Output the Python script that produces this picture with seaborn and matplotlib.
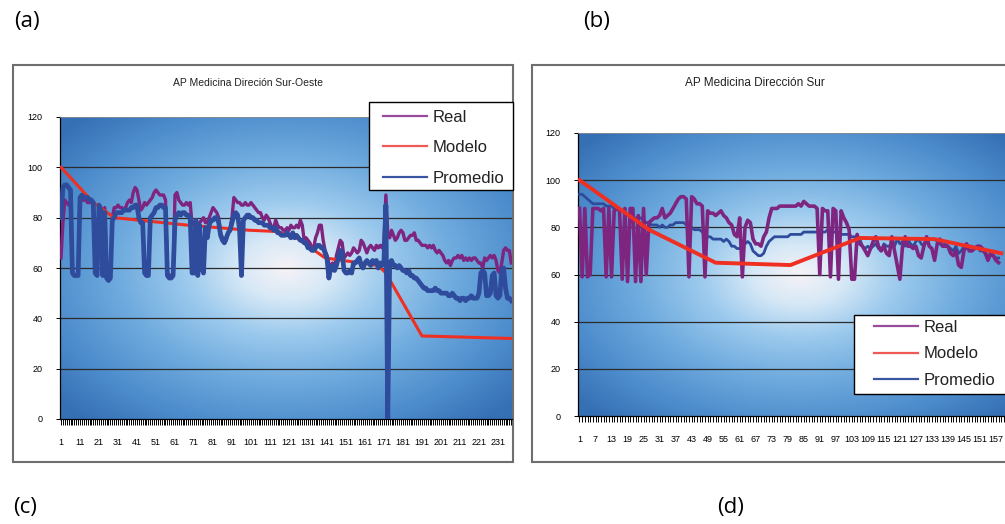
import numpy as np
import matplotlib
matplotlib.use('Agg')
import matplotlib.pyplot as plt
import seaborn as sns
from matplotlib.colors import LinearSegmentedColormap
from matplotlib.lines import Line2D
from matplotlib.patches import Rectangle

nan = np.nan

# ---- (a) AP Medicina Direción Sur-Oeste ----
left_real = [
    64, 78, 87, 86, 85, 86, 58, 57, 57, 58,
    86, 87, 87, 87, 86, 86, 86, 86, 60, 58,
    85, 84, 60, 84, 58, 57, 58, 80, 84, 84,
    85, 84, 84, 83, 84, 86, 87, 86, 90, 92,
    91, 87, 83, 84, 86, 85, 86, 87, 88, 90,
    91, 90, 89, 89, 89, 87, 58, 57, 57, 58,
    89, 90, 87, 86, 85, 85, 86, 85, 86, 77,
    77, 78, 77, 78, 79, 80, 78, 78, 80, 82,
    84, 83, 82, 80, 74, 72, 70, 71, 74, 76,
    80, 88, 87, 86, 86, 85, 85, 86, 85, 85,
    86, 85, 84, 83, 82, 82, 80, 79, 81, 80,
    78, 76, 76, 79, 77, 76, 76, 75, 75, 76,
    75, 77, 76, 76, 77, 76, 79, 77, 71, 72,
    71, 70, 68, 68, 72, 74, 77, 77, 71, 67,
    65, 62, 60, 62, 59, 65, 68, 71, 70, 64,
    65, 66, 65, 66, 68, 67, 66, 67, 71, 70,
    68, 66, 68, 69, 68, 67, 69, 68, 69, 68,
    70, 89, 74, 72, 75, 73, 71, 72, 74, 75,
    74, 71, 71, 72, 73, 73, 74, 71, 71, 70,
    69, 69, 69, 68, 69, 68, 69, 67, 66, 67,
    66, 65, 63, 62, 63, 61, 63, 64, 64, 65,
    64, 65, 63, 64, 63, 64, 63, 64, 64, 63,
    62, 62, 60, 64, 63, 64, 65, 64, 65, 63,
    59, 58, 62, 67, 68, 67, 67, 62]
left_prom = [
    80, 92, 93, 93, 92, 91, 58, 57, 57, 57,
    88, 89, 88, 88, 88, 87, 87, 86, 58, 57,
    85, 83, 57, 82, 56, 55, 56, 79, 80, 82,
    82, 82, 82, 83, 83, 83, 83, 84, 84, 85,
    85, 80, 78, 78, 58, 57, 57, 80, 81, 82,
    84, 84, 85, 85, 84, 84, 57, 56, 56, 57,
    79, 81, 82, 81, 82, 82, 81, 81, 80, 58,
    58, 79, 57, 77, 60, 58, 76, 72, 77, 79,
    79, 80, 80, 78, 73, 71, 70, 72, 74, 75,
    78, 81, 82, 81, 75, 57, 79, 80, 81, 81,
    80, 80, 79, 79, 78, 78, 78, 77, 77, 77,
    76, 76, 75, 76, 74, 74, 73, 73, 73, 74,
    73, 72, 74, 72, 73, 72, 71, 71, 70, 70,
    68, 68, 67, 67, 68, 69, 69, 68, 68, 66,
    64, 56, 60, 61, 59, 61, 64, 67, 66, 59,
    58, 58, 59, 58, 62, 62, 63, 64, 61, 60,
    62, 63, 62, 61, 63, 62, 63, 60, 62, 61,
    63, 85, 0, 62, 63, 61, 61, 60, 61, 60,
    59, 59, 58, 59, 57, 57, 56, 56, 55, 54,
    53, 52, 52, 51, 51, 51, 51, 52, 51, 51,
    50, 50, 50, 50, 49, 49, 50, 49, 48, 48,
    47, 48, 48, 47, 48, 48, 49, 48, 48, 48,
    50, 58, 59, 58, 49, 49, 50, 57, 58, 49,
    48, 49, 59, 60, 52, 48, 48, 47]
left_model_x = [1, 18, 29, 68, 100, 115, 125, 140, 168, 172, 191, 238]
left_model_y = [100, 86, 80, 77, 75, 74.5, 72, 64, 61, 58, 33, 32]

# ---- (b) AP Medicina Dirección Sur ----
right_real = [
    88, 59, 88, 59, 60, 88, 88, 88, 87, 88,
    59, 88, 59, 87, 88, 87, 58, 88, 57, 88,
    88, 57, 85, 57, 88, 60, 82, 83, 84, 84,
    85, 88, 84, 85, 86, 88, 90, 92, 93, 93,
    92, 59, 93, 92, 90, 90, 89, 59, 87, 86,
    86, 85, 86, 87, 85, 84, 82, 81, 77, 76,
    84, 59, 80, 83, 82, 75, 73, 73, 72, 76,
    78, 84, 88, 88, 88, 89, 89, 89, 89, 89,
    89, 89, 90, 89, 91, 90, 89, 89, 89, 88,
    60, 88, 87, 87, 59, 88, 87, 58, 87, 84,
    82, 79, 58, 58, 77, 73, 72, 70, 68, 71,
    74, 76, 72, 70, 72, 69, 68, 76, 70, 64,
    58, 72, 76, 72, 72, 71, 72, 68, 67, 72,
    76, 72, 71, 66, 73, 75, 72, 72, 72, 69,
    68, 70, 64, 63, 70, 73, 70, 70, 71, 72,
    72, 71, 69, 66, 69, 68, 66, 65]
right_prom = [
    94, 94, 93, 92, 91, 90, 90, 90, 90, 90,
    89, 89, 89, 88, 88, 87, 87, 86, 85, 85,
    84, 84, 84, 84, 83, 82, 82, 81, 81, 81,
    80, 81, 80, 80, 81, 81, 82, 82, 82, 82,
    81, 81, 80, 79, 79, 79, 78, 77, 76, 76,
    75, 75, 75, 75, 74, 75, 74, 72, 72, 71,
    71, nan, nan, 74, 73, 70, 69, 68, 68, 69,
    72, 74, 75, 76, 76, 76, 76, 76, 76, 77,
    77, 77, 77, 77, 78, 78, 78, 78, 78, 78,
    78, 78, 78, 79, 79, 78, 78, 78, 77, 77,
    77, 77, 76, 76, 75, 75, 72, 71, 72, 71,
    72, 73, 71, 70, 73, 72, 72, 73, 72, 75,
    73, 74, 72, 75, 73, 72, 74, 75, 73, 72,
    74, 75, 75, 75, 74, 73, 72, 73, 72, 71,
    70, 72, 69, 70, 72, 71, 72, 72, 71, 72,
    70, 70, 69, 68, 68, 68, 67, 67]
right_model_x = [1, 27, 52, 80, 106, 134, 159]
right_model_y = [100, 79, 65, 64, 75.5, 75, 69]

series_names = ['Real', 'Modelo', 'Promedio']
purple, red, blue = '#7e2580', '#ee2f22', '#2f4b9c'
legend_colors = ['#9a4c9c', '#f05a55', '#3a55a2']

plt.rcParams['font.family'] = ['Liberation Sans', 'DejaVu Sans']

W, H = 1005, 524
fig = plt.figure(figsize=(W / 100, H / 100), dpi=100)


def px_rect(x0, y0, x1, y1):
    return [x0 / W, 1 - y1 / H, (x1 - x0) / W, (y1 - y0) / H]


bg_cmap = LinearSegmentedColormap.from_list('bg', [
    (0.0, '#f5f2f7'), (0.15, '#d6e8f6'), (0.32, '#9ecbee'),
    (0.55, '#6fabde'), (0.8, '#4c8bcc'), (1.0, '#3570b4')])


def gradient(ax):
    yy, xx = np.mgrid[0:1:200j, 0:1:300j]
    d = np.sqrt(((xx - 0.5) / 0.5) ** 2 + ((yy - 0.5) / 0.5) ** 2)
    ax.imshow(np.clip(d / 1.35, 0, 1), cmap=bg_cmap, extent=(0, 1, 0, 1),
              transform=ax.transAxes, aspect='auto', origin='lower',
              interpolation='bilinear', zorder=0)


def frame(x0, y0, x1, y1):
    fig.patches.append(Rectangle((x0 / W, 1 - y1 / H), (x1 - x0) / W, (y1 - y0) / H,
                                 transform=fig.transFigure, facecolor='white',
                                 edgecolor='#6e6e6e', linewidth=1.5, zorder=0))


def style_axes(ax, step, xlo, xhi):
    ax.set_zorder(2)
    gradient(ax)
    ax.set_xlim(xlo, xhi)
    ax.set_ylim(0, 120)
    ax.set_yticks(range(0, 121, 20))
    ax.set_yticklabels([str(v) for v in range(0, 121, 20)])
    major = list(range(1, int(xhi) + 1, step))
    ax.set_xticks(major)
    ax.set_xticklabels([str(v) for v in major])
    ax.set_xticks(range(1, int(xhi) + 1), minor=True)
    ax.tick_params(axis='x', which='both', length=4, width=0.7, direction='out',
                   pad=9.5, labelsize=6.5, color='black')
    ax.tick_params(axis='y', length=3, width=0.7, pad=9.5, labelsize=6.5)
    for y in range(20, 101, 20):
        ax.axhline(y, color='#2b2b2b', linewidth=0.9, zorder=1)
    ax.spines['right'].set_visible(False)
    ax.spines['top'].set_color('#8a8a8a')
    ax.spines['top'].set_linewidth(0.6)
    for s in ['left', 'bottom']:
        ax.spines[s].set_color('black')
        ax.spines[s].set_linewidth(0.9)
    ax.set_xlabel('')
    ax.set_ylabel('')


def legend_box(ax, x0, y0, x1, y1, hx, ty, spacing):
    ax.add_patch(Rectangle((x0 / W, 1 - y1 / H), (x1 - x0) / W, (y1 - y0) / H,
                           transform=fig.transFigure, facecolor='white',
                           edgecolor='black', linewidth=1.0, zorder=10, clip_on=False))
    handles = [Line2D([], [], color=c, linewidth=1.6) for c in legend_colors]
    leg = ax.legend(handles, series_names, loc='upper left', frameon=False,
                    bbox_to_anchor=(hx / W, 1 - ty / H), bbox_transform=fig.transFigure,
                    borderpad=0, borderaxespad=0, fontsize=12, handlelength=2.65,
                    handletextpad=0.3, labelspacing=spacing)
    leg.set_zorder(11)
    for t in leg.get_texts():
        t.set_color('#222222')


# ---- left chart ----
frame(13, 65, 513, 462)
axl = fig.add_axes(px_rect(60, 117, 512, 419))
cat_l = np.arange(1, len(left_real) + 1)
sns.lineplot(x=cat_l, y=left_real, ax=axl, color=purple, linewidth=2.4,
             estimator=None, sort=False, zorder=3)
sns.lineplot(x=left_model_x, y=left_model_y, ax=axl, color=red, linewidth=2.2,
             estimator=None, sort=False, zorder=4)
sns.lineplot(x=cat_l, y=left_prom, ax=axl, color=blue, linewidth=3.4,
             estimator=None, sort=False, zorder=5)
style_axes(axl, 10, 0.47, 238.4)
fig.text(248 / W, 1 - 83 / H, 'AP Medicina Direción Sur-Oeste', ha='center',
         va='center', fontsize=7.5, color='#222222')

# ---- right chart ----
frame(532, 65, 1010, 462)
axr = fig.add_axes(px_rect(578, 133, 1020, 416))
cat_r = np.arange(1, len(right_real) + 1)
sns.lineplot(x=cat_r, y=right_prom, ax=axr, color=blue, linewidth=2.0,
             estimator=None, sort=False, zorder=3)
sns.lineplot(x=cat_r, y=right_real, ax=axr, color=purple, linewidth=2.6,
             estimator=None, sort=False, zorder=4)
sns.lineplot(x=right_model_x, y=right_model_y, ax=axr, color=red, linewidth=2.8,
             estimator=None, sort=False, zorder=5)
style_axes(axr, 6, 0.44, 166)
fig.text(755 / W, 1 - 83 / H, 'AP Medicina Dirección Sur', ha='center',
         va='center', fontsize=8.5, color='#222222')

legend_box(axl, 369, 102, 513, 190, 383, 110, 0.92)
legend_box(axr, 854, 315, 1012, 394, 874, 320, 0.68)

# panel letters
for lab, x, y in [('(a)', 27, 21), ('(b)', 597, 21), ('(c)', 25, 508), ('(d)', 731, 508)]:
    fig.text(x / W, 1 - y / H, lab, ha='center', va='center', fontsize=16,
             family=['Open Sans', 'DejaVu Sans'], color='black')

fig.savefig('out.png', dpi=100)
